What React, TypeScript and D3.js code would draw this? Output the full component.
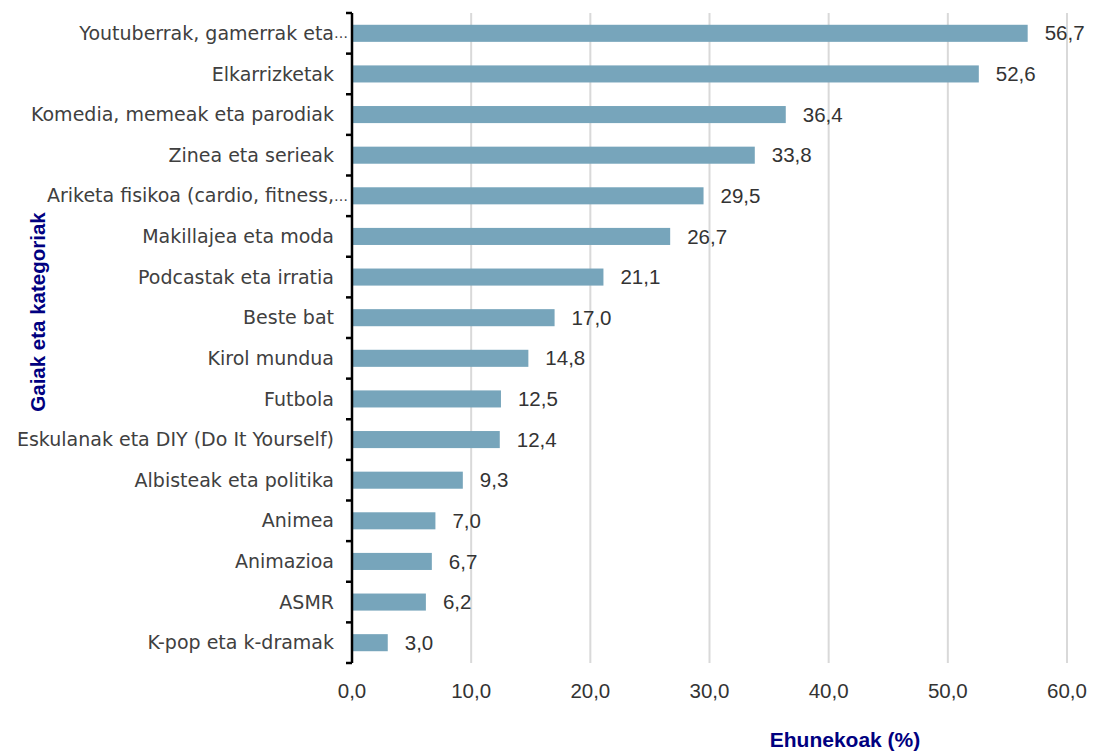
import React from 'react';
import * as d3 from 'd3';

const categories = [
  'Youtuberrak, gamerrak eta…',
  'Elkarrizketak',
  'Komedia, memeak eta parodiak',
  'Zinea eta serieak',
  'Ariketa fisikoa (cardio, fitness,…',
  'Makillajea eta moda',
  'Podcastak eta irratia',
  'Beste bat',
  'Kirol mundua',
  'Futbola',
  'Eskulanak eta DIY (Do It Yourself)',
  'Albisteak eta politika',
  'Animea',
  'Animazioa',
  'ASMR',
  'K-pop eta k-dramak',
];
const values = [56.7, 52.6, 36.4, 33.8, 29.5, 26.7, 21.1, 17.0, 14.8, 12.5, 12.4, 9.3, 7.0, 6.7, 6.2, 3.0];
const xTicks = [0, 10, 20, 30, 40, 50, 60];

const W = 1093;
const H = 751;
const m = { l: 352, r: 26, t: 13, b: 88 };
const fmt = (v: number) => v.toFixed(1).replace('.', ',');
const labelEnd = 334;
const sans = "'Liberation Sans', Arial, sans-serif";
const verd = "'DejaVu Sans', Verdana, sans-serif";

export default function App() {
  const x = d3.scaleLinear().domain([0, 60]).range([m.l, W - m.r]);
  const y = d3.scaleBand().domain(categories).range([m.t, H - m.b]).paddingInner(0.58).paddingOuter(0.29);
  const bounds = d3.range(categories.length + 1).map((i) => m.t + i * ((H - m.b - m.t) / categories.length));

  return (
    <svg width={W} height={H} style={{ position: 'absolute', left: 0, top: 0 }}>
      {xTicks.filter((t) => t > 0).map((t) => (
        <line key={t} x1={x(t)} x2={x(t)} y1={m.t} y2={H - m.b} stroke="#d9d9d9" strokeWidth={2} />
      ))}
      {categories.map((c, i) => {
        const cy = (y(c) || 0) + y.bandwidth() / 2;
        const cut = c.endsWith('…');
        const main = cut ? c.slice(0, -1) : c;
        return (
          <g key={c}>
            <rect x={x(0)} y={y(c)} width={x(values[i]) - x(0)} height={y.bandwidth()} fill="#77a5bb" />
            <text x={x(values[i]) + 17} y={cy} dy="0.35em" fontFamily={sans} fontSize={20.5} fill="#333">{fmt(values[i])}</text>
            <text x={labelEnd} y={cy} dy="0.35em" textAnchor="end" fontFamily={verd} fontSize={19} fill="#404040">{main}</text>
            {cut && (
              <text x={labelEnd} y={cy} dy="0.35em" fontFamily={verd} fontSize={14} fill="#404040">…</text>
            )}
          </g>
        );
      })}
      <line x1={x(0)} x2={x(0)} y1={m.t} y2={H - m.b} stroke="#000" strokeWidth={2.5} />
      {bounds.map((b, i) => (
        <line key={i} x1={x(0) - 6} x2={x(0)} y1={b} y2={b} stroke="#000" strokeWidth={2.5} />
      ))}
      {xTicks.map((t) => (
        <text key={t} x={x(t)} y={691} dy="0.35em" textAnchor="middle" fontFamily={sans} fontSize={20.5} fill="#333">{fmt(t)}</text>
      ))}
      <text x={845} y={740} dy="0.35em" textAnchor="middle" fontFamily={sans} fontWeight="bold" fontSize={21} fill="#000080">Ehunekoak (%)</text>
      <text transform="translate(38,312) rotate(-90)" dy="0.35em" textAnchor="middle"
        fontFamily={sans} fontWeight="bold" fontSize={20.5} fill="#000080">Gaiak eta kategoriak</text>
    </svg>
  );
}
